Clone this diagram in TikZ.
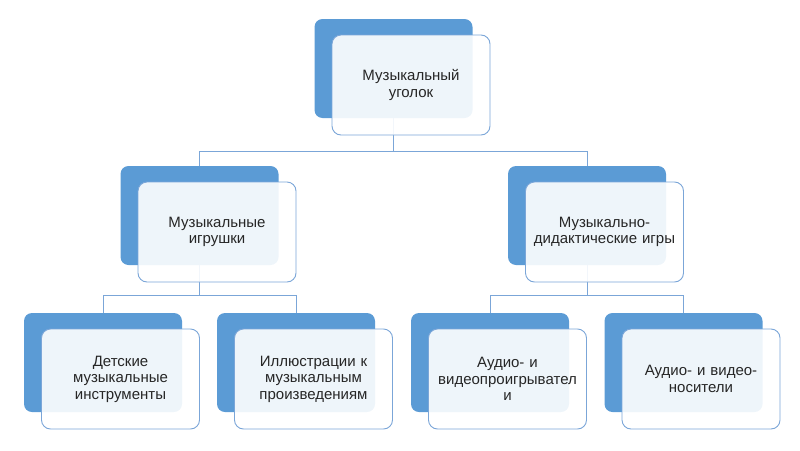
\documentclass[tikz,border=0pt]{standalone}
\usepackage{fontspec}
\setmainfont{Liberation Sans}
\usepackage{xcolor}
\usetikzlibrary{positioning}
\definecolor{blockblue}{HTML}{5B9BD5}
\definecolor{edgeblue}{HTML}{7BA6D8}

\begin{document}
\begin{tikzpicture}[x=1pt, y=-1pt,
        back/.style={rectangle, rounded corners=8pt, fill=blockblue, minimum width=158pt, minimum height=99pt},
        front/.style={rectangle, rounded corners=9pt, draw=edgeblue, line width=0.9pt, fill=white, fill opacity=0.9, draw opacity=1, text opacity=1, minimum width=158pt, minimum height=100pt, text width=150pt, align=center, text=black!85, font=\fontsize{15}{16.5}\selectfont},
        link/.style={draw=edgeblue, line width=0.9pt}
    ]
    \useasboundingbox (0,0) rectangle (800,450);

    % Back blocks
    \node[back] (root) at (393.5, 68.5) {};
    \node[back] (toys) at (199.5, 215.5) {};
    \node[back] (games) at (587, 215.5) {};
    \foreach \n/\x in {instr/103, illus/296, players/490, media/683.5} {
        \node[back] (\n) at (\x, 362.5) {};
    }

    % Connectors
    \draw[link] (root.south) -- ++(0,33) -| (toys.north);
    \draw[link] (root.south) -- ++(0,33) -| (games.north);
    \draw[link] (toys.south) -- ++(0,30) -| (instr.north);
    \draw[link] (toys.south) -- ++(0,30) -| (illus.north);
    \draw[link] (games.south) -- ++(0,30) -| (players.north);
    \draw[link] (games.south) -- ++(0,30) -| (media.north);

    % Front blocks
    \node[front] (rootF) at ([shift={(17.5,16.5)}]root.center) {Музыкальный\\уголок};
    \node[front] (toysF) at ([shift={(17.5,16.5)}]toys.center) {Музыкальные\\игрушки};
    \node[front] (gamesF) at ([shift={(17.5,16.5)}]games.center) {Музыкально-\\дидактические игры};
    \node[front] (instrF) at ([shift={(17.5,16.5)}]instr.center) {Детские\\музыкальные\\инструменты};
    \node[front] (illusF) at ([shift={(17.5,16.5)}]illus.center) {Иллюстрации к\\музыкальным\\произведениям};
    \node[front] (playersF) at ([shift={(17.5,16.5)}]players.center) {Аудио- и\\видеопроигрывател\\и};
    \node[front] (mediaF) at ([shift={(17.5,16.5)}]media.center) {Аудио- и видео-\\носители};
\end{tikzpicture}
\end{document}
